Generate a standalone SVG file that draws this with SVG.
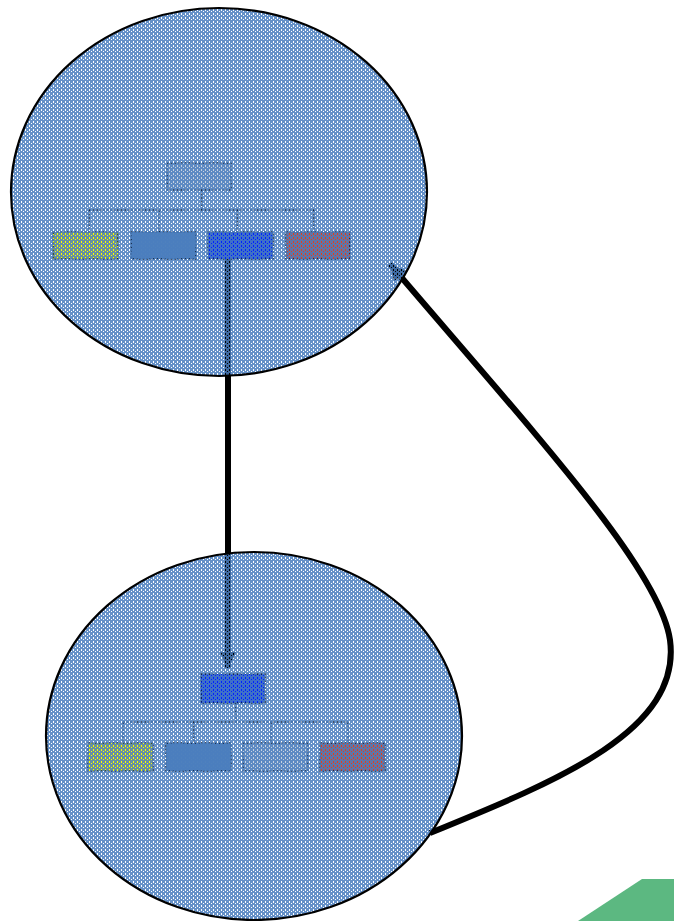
<svg xmlns="http://www.w3.org/2000/svg" width="674" height="921" viewBox="0 0 674 921">
<defs>
<style>
.conn{fill:none;stroke:#000;stroke-width:6;stroke-linejoin:round}
.oc{fill:none;stroke:#0f1a2e;stroke-width:1.5;stroke-dasharray:2 1.5}
.box{stroke:#0f1a2e;stroke-width:1.5;stroke-dasharray:2 1.5}
.shell{fill:url(#dots);stroke:#000;stroke-width:2.2}
</style>
<pattern id="dots" width="4" height="4" patternUnits="userSpaceOnUse">
<path d="M0 0h4v4h-4z M1 1v2h1v-2z M3 3v1h1v-1z" fill="#4a7ebf" fill-opacity="0.85" fill-rule="evenodd"/>
</pattern>
<marker id="ah" markerWidth="18" markerHeight="18" refX="16" refY="9" orient="auto" markerUnits="userSpaceOnUse">
<path d="M0,1 L17,9 L0,17 z" fill="#000"/>
</marker>
</defs>
<g id="connectors">
<path class="conn" d="M228,259 L228,668" marker-end="url(#ah)"/>
<path class="conn" d="M430,833 C560,780 682,730 670,640 C660,570 540,440 390,264" marker-end="url(#ah)"/>
</g>
<g id="chart-top">
<path class="oc" d="M202,190 V210 M89,210 H314 M89,210 V232 M159,210 V232 M237,210 V232 M314,210 V232"/>
<rect class="box" x="167" y="163" width="64" height="27" fill="#c9d3e0"/>
<rect class="box" x="53" y="232" width="65" height="27" fill="#ffff00"/>
<rect class="box" x="131" y="232" width="65" height="27" fill="#4f81bd"/>
<rect class="box" x="208" y="232" width="65" height="27" fill="#0022ff"/>
<rect class="box" x="286" y="232" width="64" height="27" fill="#e04020"/>
</g>
<g id="chart-bottom">
<path class="oc" d="M236,703 V722 M123,722 H348 M123,722 V743 M194,722 V743 M271,722 V743 M348,722 V743"/>
<rect class="box" x="201" y="674" width="64" height="29" fill="#0022ff"/>
<rect class="box" x="88" y="743" width="65" height="28" fill="#ffff00"/>
<rect class="box" x="166" y="743" width="65" height="28" fill="#4f81bd"/>
<rect class="box" x="243" y="743" width="65" height="28" fill="#c9d3e0"/>
<rect class="box" x="320" y="743" width="65" height="28" fill="#e04020"/>
</g>
<g id="node-top">
<ellipse class="shell" cx="219" cy="192" rx="208" ry="184"/>
</g>
<g id="node-bottom">
<ellipse class="shell" cx="254" cy="736" rx="208" ry="184"/>
</g>
<polygon id="corner" points="578,921 642,879 674,879 674,921" fill="#5cb881"/>
</svg>
